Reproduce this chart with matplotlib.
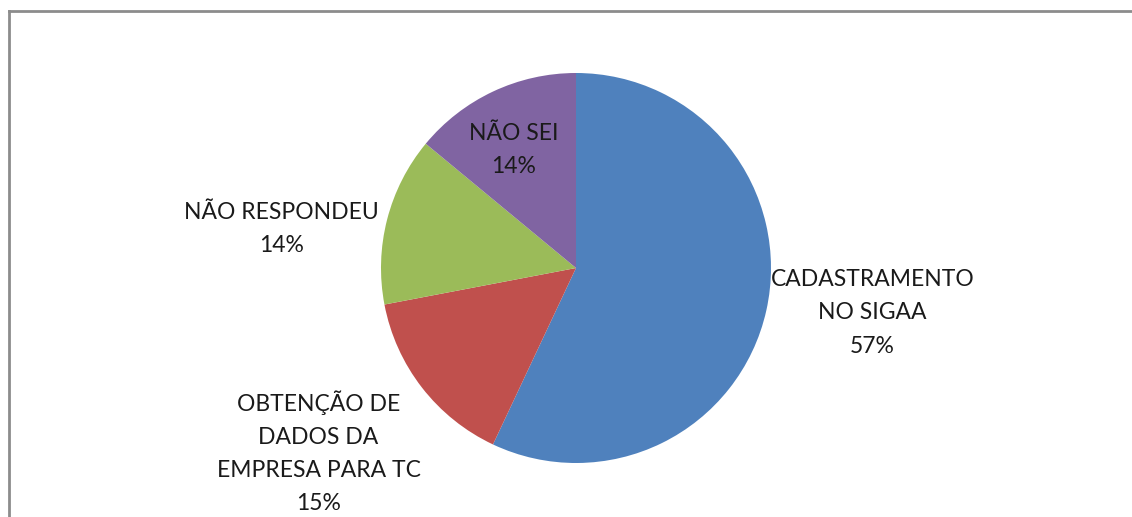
import matplotlib.pyplot as plt
from matplotlib.lines import Line2D

# Chart data
labels = ["CADASTRAMENTO\nNO SIGAA", "OBTENÇÃO DE\nDADOS DA\nEMPRESA PARA TC",
          "NÃO RESPONDEU", "NÃO SEI"]
values = [57, 15, 14, 14]
colors = ["#4F81BD", "#C0504D", "#9BBB59", "#8064A2"]

# Label anchor points, in units of the pie radius (layout only)
label_xy = [(1.52, -0.23), (-1.32, -0.945), (-1.51, 0.20), (-0.32, 0.605)]

W, H, DPI = 1132, 517, 100
cx, cy, r = 576, 268, 195  # pie centre and radius in pixels

fig = plt.figure(figsize=(W / DPI, H / DPI), dpi=DPI)
ax = fig.add_axes([0, 0, 1, 1])

wedges, _ = ax.pie(values, colors=colors, startangle=90, counterclock=False,
                   radius=1, wedgeprops=dict(linewidth=0))

ax.set_xlim(-cx / r, (W - cx) / r)
ax.set_ylim(-(H - cy) / r, cy / r)
ax.set_aspect("auto")
ax.axis("off")

total = sum(values)
for lab, v, (x, y) in zip(labels, values, label_xy):
    pct = round(100 * v / total)
    ax.text(x, y, f"{lab}\n{pct}%", ha="center", va="center",
            fontsize=16.5, family="Lato", color="#1a1a1a", linespacing=1.72)

# chart area border (only the top and left edges show)
bx, by = 8.5, H - 11
fig.add_artist(Line2D([bx / W, bx / W], [0, by / H], color="#8c8c8c", lw=2.0,
                      transform=fig.transFigure, solid_capstyle="projecting"))
fig.add_artist(Line2D([bx / W, 1], [by / H, by / H], color="#8c8c8c", lw=2.0,
                      transform=fig.transFigure, solid_capstyle="projecting"))

fig.savefig("out.png", dpi=DPI, facecolor="white")
